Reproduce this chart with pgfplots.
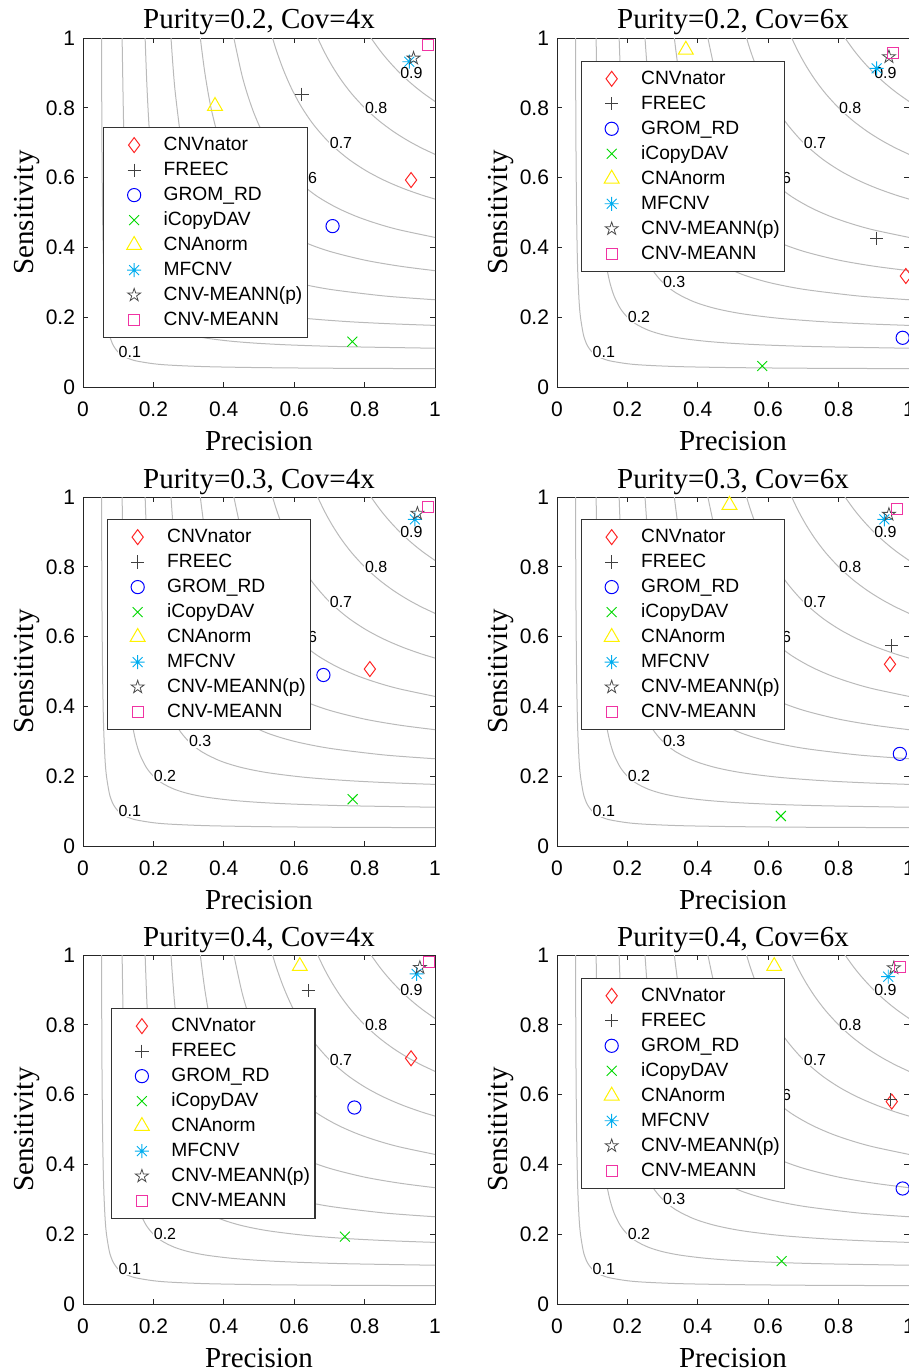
\documentclass[border=0pt]{standalone}
\usepackage{fontspec}
\setmainfont{Liberation Serif}
\newfontfamily\arial{Liberation Sans}
\usepackage{pgfplots}
\pgfplotsset{compat=1.18}

\pgfdeclareplotmark{pentagram}{%
  \pgfpathmoveto{\pgfqpointpolar{90}{\pgfplotmarksize}}%
  \pgfpathlineto{\pgfqpointpolar{126}{0.382\pgfplotmarksize}}%
  \pgfpathlineto{\pgfqpointpolar{162}{\pgfplotmarksize}}%
  \pgfpathlineto{\pgfqpointpolar{198}{0.382\pgfplotmarksize}}%
  \pgfpathlineto{\pgfqpointpolar{234}{\pgfplotmarksize}}%
  \pgfpathlineto{\pgfqpointpolar{270}{0.382\pgfplotmarksize}}%
  \pgfpathlineto{\pgfqpointpolar{306}{\pgfplotmarksize}}%
  \pgfpathlineto{\pgfqpointpolar{342}{0.382\pgfplotmarksize}}%
  \pgfpathlineto{\pgfqpointpolar{18}{\pgfplotmarksize}}%
  \pgfpathlineto{\pgfqpointpolar{54}{0.382\pgfplotmarksize}}%
  \pgfpathclose\pgfusepathqstroke}
\pgfdeclareplotmark{masterisk}{%
  \pgfpathmoveto{\pgfqpoint{-\pgfplotmarksize}{0pt}}\pgfpathlineto{\pgfqpoint{\pgfplotmarksize}{0pt}}%
  \pgfpathmoveto{\pgfqpoint{0pt}{-\pgfplotmarksize}}\pgfpathlineto{\pgfqpoint{0pt}{\pgfplotmarksize}}%
  \pgfpathmoveto{\pgfqpoint{-.7071\pgfplotmarksize}{-.7071\pgfplotmarksize}}\pgfpathlineto{\pgfqpoint{.7071\pgfplotmarksize}{.7071\pgfplotmarksize}}%
  \pgfpathmoveto{\pgfqpoint{-.7071\pgfplotmarksize}{.7071\pgfplotmarksize}}\pgfpathlineto{\pgfqpoint{.7071\pgfplotmarksize}{-.7071\pgfplotmarksize}}%
  \pgfusepathqstroke}

\tikzset{isolab/.style={fill=white, inner sep=0.3bp, font=\arial\fontsize{8bp}{9bp}\selectfont}}
\pgfplotsset{
  sA/.style={mark=diamond, mark size=3.75bp, color=red!85!white, line width=0.5bp, mark options={solid}},
  sB/.style={mark=+, mark size=3.3bp, color=black!75, line width=0.45bp, mark options={solid}},
  sC/.style={mark=o, mark size=3.3bp, color=blue, line width=0.5bp, mark options={solid}},
  sD/.style={mark=x, mark size=3.5bp, color=green!85!black, line width=0.45bp, mark options={solid}},
  sE/.style={mark=triangle, mark size=4.3bp, color=yellow, line width=0.5bp, mark options={solid}},
  sF/.style={mark=masterisk, mark size=3.5bp, color=cyan, line width=0.45bp, mark options={solid}},
  sG/.style={mark=pentagram, mark size=3.4bp, color=black!70, line width=0.4bp, mark options={solid}},
  sH/.style={mark=square, mark size=2.75bp, color=magenta!80!white, line width=0.5bp, mark options={solid}},
  iso/.style={black!27, line width=0.5bp, smooth, tension=0.5, mark=none, forget plot},
  panel/.style={
    width=176bp, height=174.5bp, scale only axis,
    xmin=0, xmax=1, ymin=0, ymax=1,
    xtick={0,0.2,0.4,0.6,0.8,1}, ytick={0,0.2,0.4,0.6,0.8,1},
    xticklabels={0,0.2,0.4,0.6,0.8,1}, yticklabels={0,0.2,0.4,0.6,0.8,1},
    /pgf/number format/assume math mode=true,
    tick align=inside, major tick length=2.5bp,
    axis line style={black!85, line width=0.5bp},
    every tick/.style={black!85, line width=0.5bp},
    tick label style={font=\arial\fontsize{10.5bp}{12bp}\selectfont},
    xticklabel style={yshift=-3.8bp},
    yticklabel style={xshift=-0.5bp},
    every axis title shift=0pt,
    title style={font=\fontsize{14.5bp}{16bp}\selectfont, at={(axis description cs:0.5,1.0258)}, anchor=base},
    xlabel={Precision}, ylabel={Sensitivity},
    label style={font=\fontsize{14.5bp}{16bp}\selectfont},
    xlabel style={at={(axis description cs:0.5,-0.1805)}, anchor=base},
    ylabel style={at={(axis description cs:-0.142,0.5)}, anchor=base},
    legend image code/.code={\path (0bp,0bp) (27bp,0bp); \draw[##1] plot coordinates {(12.5bp,0bp)};},
    legend cell align=left,
    legend style={draw=black!80, line width=0.6bp, fill=white, inner xsep=2.5bp, inner ysep=3.5bp,
      font=\arial\fontsize{9.6bp}{11bp}\selectfont, row sep=2bp,
      nodes={inner xsep=0pt, inner ysep=0pt, text height=8bp, text depth=2.5bp}, anchor=north west},
  }
}

\newcommand{\isolines}{%
\addplot[iso] coordinates {(0.0526,1.0) (0.0538,0.7) (0.0556,0.5) (0.0583,0.35) (0.0625,0.25) (0.0667,0.2) (0.075,0.15) (0.0833,0.125) (0.0917,0.11) (0.1,0.1) (0.11,0.0917) (0.125,0.0833) (0.15,0.075) (0.2,0.0667) (0.25,0.0625) (0.35,0.0583) (0.5,0.0556) (0.7,0.0538) (1.0,0.0526)};
\addplot[iso] coordinates {(0.1111,1.0) (0.1154,0.75) (0.12,0.6) (0.125,0.5) (0.1313,0.42) (0.14,0.35) (0.15,0.3) (0.1625,0.26) (0.18,0.225) (0.2,0.2) (0.225,0.18) (0.26,0.1625) (0.3,0.15) (0.35,0.14) (0.42,0.1313) (0.5,0.125) (0.6,0.12) (0.75,0.1154) (1.0,0.1111)};
\addplot[iso] coordinates {(0.1765,1.0) (0.1813,0.87) (0.1875,0.75) (0.1969,0.63) (0.21,0.525) (0.225,0.45) (0.2438,0.39) (0.27,0.3375) (0.3,0.3) (0.3375,0.27) (0.39,0.2438) (0.45,0.225) (0.525,0.21) (0.63,0.1969) (0.75,0.1875) (0.87,0.1813) (1.0,0.1765)};
\addplot[iso] coordinates {(0.25,1.0) (0.2556,0.92) (0.2625,0.84) (0.28,0.7) (0.3,0.6) (0.325,0.52) (0.36,0.45) (0.3818,0.42) (0.4,0.4) (0.42,0.3818) (0.45,0.36) (0.52,0.325) (0.6,0.3) (0.7,0.28) (0.84,0.2625) (0.92,0.2556) (1.0,0.25)};
\addplot[iso] coordinates {(0.3333,1.0) (0.3462,0.9) (0.3636,0.8) (0.3889,0.7) (0.4167,0.625) (0.4583,0.55) (0.5,0.5) (0.55,0.4583) (0.625,0.4167) (0.7,0.3889) (0.8,0.3636) (0.9,0.3462) (1.0,0.3333)};
\addplot[iso] coordinates {(0.4286,1.0) (0.45,0.9) (0.4667,0.84) (0.4875,0.78) (0.5143,0.72) (0.55,0.66) (0.6,0.6) (0.66,0.55) (0.72,0.5143) (0.78,0.4875) (0.84,0.4667) (0.9,0.45) (1.0,0.4286)};
\addplot[iso] coordinates {(0.5385,1.0) (0.55,0.9625) (0.5688,0.91) (0.5914,0.8575) (0.6192,0.805) (0.6544,0.7525) (0.7,0.7) (0.7525,0.6544) (0.805,0.6192) (0.8575,0.5914) (0.91,0.5688) (0.9625,0.55) (1.0,0.5385)};
\addplot[iso] coordinates {(0.6667,1.0) (0.6857,0.96) (0.7077,0.92) (0.7333,0.88) (0.7636,0.84) (0.8,0.8) (0.84,0.7636) (0.88,0.7333) (0.92,0.7077) (0.96,0.6857) (1.0,0.6667)};
\addplot[iso] coordinates {(0.8182,1.0) (0.8413,0.9675) (0.8591,0.945) (0.8786,0.9225) (0.9,0.9) (0.9225,0.8786) (0.945,0.8591) (0.9675,0.8413) (1.0,0.8182)};
\node[isolab] at (axis cs:0.133,0.1) {0.1};
\node[isolab] at (axis cs:0.633,0.6) {0.6};
\node[isolab] at (axis cs:0.733,0.7) {0.7};
\node[isolab] at (axis cs:0.833,0.8) {0.8};
\node[isolab] at (axis cs:0.933,0.9) {0.9};
}
\newcommand{\labtwo}{\node[isolab] at (axis cs:0.233,0.2) {0.2};}
\newcommand{\labthree}{\node[isolab] at (axis cs:0.333,0.3) {0.3};}
\newcommand{\legendimgs}{%
\addlegendimage{sA}\addlegendentry{CNVnator}
\addlegendimage{sB}\addlegendentry{FREEC}
\addlegendimage{sC}\addlegendentry{GROM\_RD}
\addlegendimage{sD}\addlegendentry{iCopyDAV}
\addlegendimage{sE}\addlegendentry{CNAnorm}
\addlegendimage{sF}\addlegendentry{MFCNV}
\addlegendimage{sG}\addlegendentry{CNV-MEANN(p)}
\addlegendimage{sH}\addlegendentry{CNV-MEANN}
}

\begin{document}
\begin{tikzpicture}
% Row 1 left
\begin{axis}[panel, at={(41.5bp,-193.5bp)}, anchor=south west,
  title={Purity=0.2, Cov=4x}, legend style={at={(0.057,0.745)}}]
\legendimgs
\isolines
\addplot[sA, only marks, forget plot] coordinates {(0.932,0.593)};
\addplot[sB, only marks, forget plot] coordinates {(0.622,0.839)};
\addplot[sC, only marks, forget plot] coordinates {(0.709,0.461)};
\addplot[sD, only marks, forget plot] coordinates {(0.765,0.130)};
\addplot[sE, only marks, forget plot] coordinates {(0.375,0.805)};
\addplot[sF, only marks, forget plot] coordinates {(0.927,0.932)};
\addplot[sG, only marks, forget plot] coordinates {(0.939,0.942)};
\addplot[sH, only marks, forget plot] coordinates {(0.981,0.981)};
\end{axis}
% Row 1 right
\begin{axis}[panel, at={(278.5bp,-193.5bp)}, anchor=south west,
  title={Purity=0.2, Cov=6x}, legend style={at={(0.067,0.935)}}]
\legendimgs
\isolines\labtwo\labthree
\addplot[sA, only marks, forget plot] coordinates {(0.991,0.318)};
\addplot[sB, only marks, forget plot] coordinates {(0.908,0.426)};
\addplot[sC, only marks, forget plot] coordinates {(0.982,0.141)};
\addplot[sD, only marks, forget plot] coordinates {(0.583,0.060)};
\addplot[sE, only marks, forget plot] coordinates {(0.366,0.966)};
\addplot[sF, only marks, forget plot] coordinates {(0.908,0.913)};
\addplot[sG, only marks, forget plot] coordinates {(0.943,0.946)};
\addplot[sH, only marks, forget plot] coordinates {(0.954,0.956)};
\end{axis}
% Row 2 left
\begin{axis}[panel, at={(41.5bp,-423bp)}, anchor=south west,
  title={Purity=0.3, Cov=4x}, legend style={at={(0.067,0.937)}}]
\legendimgs
\isolines\labtwo\labthree
\addplot[sA, only marks, forget plot] coordinates {(0.815,0.507)};
\addplot[sC, only marks, forget plot] coordinates {(0.683,0.490)};
\addplot[sD, only marks, forget plot] coordinates {(0.766,0.134)};
\addplot[sF, only marks, forget plot] coordinates {(0.943,0.936)};
\addplot[sG, only marks, forget plot] coordinates {(0.950,0.953)};
\addplot[sH, only marks, forget plot] coordinates {(0.981,0.970)};
\end{axis}
% Row 2 right
\begin{axis}[panel, at={(278.5bp,-423bp)}, anchor=south west,
  title={Purity=0.3, Cov=6x}, legend style={at={(0.067,0.937)}}]
\legendimgs
\isolines\labtwo\labthree
\addplot[sA, only marks, forget plot] coordinates {(0.946,0.521)};
\addplot[sB, only marks, forget plot] coordinates {(0.951,0.574)};
\addplot[sC, only marks, forget plot] coordinates {(0.974,0.264)};
\addplot[sD, only marks, forget plot] coordinates {(0.636,0.086)};
\addplot[sE, only marks, forget plot] coordinates {(0.490,0.977)};
\addplot[sF, only marks, forget plot] coordinates {(0.930,0.936)};
\addplot[sG, only marks, forget plot] coordinates {(0.943,0.950)};
\addplot[sH, only marks, forget plot] coordinates {(0.965,0.966)};
\end{axis}
% Row 3 left
\begin{axis}[panel, at={(41.5bp,-652bp)}, anchor=south west,
  title={Purity=0.4, Cov=4x}, legend style={at={(0.079,0.848)}}]
\legendimgs
\isolines\labtwo
\addplot[sA, only marks, forget plot] coordinates {(0.932,0.704)};
\addplot[sB, only marks, forget plot] coordinates {(0.640,0.898)};
\addplot[sC, only marks, forget plot] coordinates {(0.771,0.563)};
\addplot[sD, only marks, forget plot] coordinates {(0.744,0.193)};
\addplot[sE, only marks, forget plot] coordinates {(0.616,0.968)};
\addplot[sF, only marks, forget plot] coordinates {(0.948,0.946)};
\addplot[sG, only marks, forget plot] coordinates {(0.957,0.964)};
\addplot[sH, only marks, forget plot] coordinates {(0.983,0.979)};
\end{axis}
% Row 3 right
\begin{axis}[panel, at={(278.5bp,-652bp)}, anchor=south west,
  title={Purity=0.4, Cov=6x}, legend style={at={(0.067,0.935)}}]
\legendimgs
\isolines\labtwo\labthree
\addplot[sA, only marks, forget plot] coordinates {(0.951,0.580)};
\addplot[sB, only marks, forget plot] coordinates {(0.948,0.585)};
\addplot[sC, only marks, forget plot] coordinates {(0.982,0.331)};
\addplot[sD, only marks, forget plot] coordinates {(0.638,0.123)};
\addplot[sE, only marks, forget plot] coordinates {(0.617,0.968)};
\addplot[sF, only marks, forget plot] coordinates {(0.941,0.938)};
\addplot[sG, only marks, forget plot] coordinates {(0.957,0.963)};
\addplot[sH, only marks, forget plot] coordinates {(0.974,0.965)};
\end{axis}
\pgfresetboundingbox
\useasboundingbox (0bp,0bp) rectangle (454.5bp,-685.5bp);
\end{tikzpicture}
\end{document}
